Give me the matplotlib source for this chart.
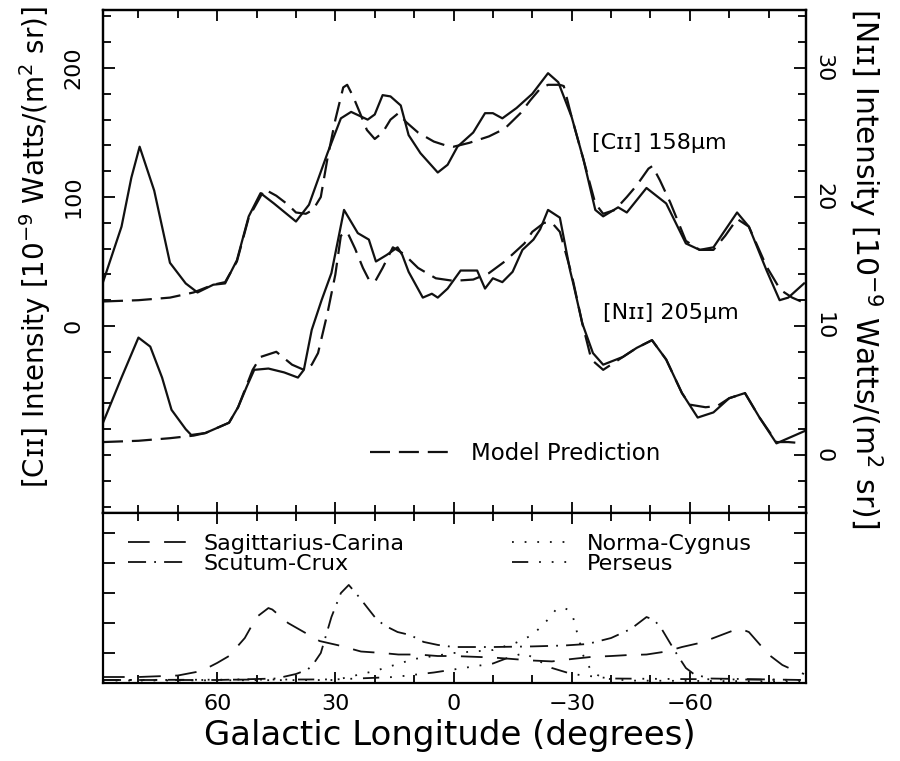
import numpy as np
import matplotlib.pyplot as plt
from matplotlib.ticker import MultipleLocator, NullFormatter

plt.rcParams['font.family'] = ['DejaVu Sans']
plt.rcParams['mathtext.fontset'] = 'dejavusans'

# [CII] 158um observed (left axis units)
cii_lon = [89, 84.3, 81.8, 79.7, 76, 72, 68, 65, 61, 58, 55, 52, 49, 45.6, 40, 36.7, 32,
           28.6, 26, 21.8, 20, 18, 16, 13.4, 11.4, 8.4, 4, 1.5, -1, -5, -8, -10, -12.4, -16,
           -20, -24, -26.6, -30, -33, -36, -38, -41.8, -44, -49, -54, -59, -62.5, -66, -72,
           -75, -79.5, -82.8, -85, -89]
cii_obs = [34, 77, 115, 139, 105, 49, 33, 26, 32, 33, 51, 85, 103, 95, 81, 94, 134,
           161, 166, 160, 164, 179, 178, 171, 148, 134, 119, 125, 139, 150, 165, 165, 161, 169,
           180, 196, 189, 162, 129, 90, 85, 92, 88, 107, 95, 64, 59, 61, 88,
           77, 43, 20, 22, 33]

# [CII] model prediction
cii_mod_lon = [89, 80, 72, 66, 61, 58, 55, 52, 48, 45, 42, 40, 37.5, 35.7, 33.7, 32, 30, 28,
               27, 25.5, 24, 22, 20, 18, 16, 14, 12, 9, 5, 2, 0, -4, -9, -13, -17, -19.5,
               -22, -24, -27, -28, -30, -33, -36, -38, -41, -44, -46.5, -49.5, -50.5, -52.4,
               -55, -59, -62.5, -66, -69, -72, -75, -79.5, -83, -86, -89]
cii_mod = [19, 20, 22, 26, 32, 34, 50, 84, 106, 101, 94, 88, 87, 90, 100, 130, 160, 185,
           187, 178, 167, 152, 145, 150, 160, 165, 158, 150, 143, 140, 139, 142, 147, 153, 165, 175,
           184, 187, 187, 186, 162, 129, 95, 87, 90, 100, 109, 122, 124, 113,
           96, 66, 59, 59, 70, 83, 77, 46, 28, 22, 18]

# [NII] 205um observed (right axis units)
nii_lon = [89, 84.3, 80, 77, 74, 71.6, 68, 66.6, 63, 60, 57, 54.7, 52.5, 50.6, 47, 43, 39.5,
           38, 36, 33.5, 31, 27.8, 24.3, 21.5, 19.7, 17, 14.2, 13, 11.4, 7.8, 5.5, 4, 1.5,
           -1.8, -6, -8, -10, -12.4, -15, -17.5, -20.3, -22, -24, -27, -29.6, -30.4, -32.7,
           -35.4, -38, -43, -46.5, -50.4, -54, -58, -62, -66, -70, -74, -77.7, -82, -85, -89.5]
nii_obs = [2.5, 6.0, 9.1, 8.4, 6.0, 3.5, 2.0, 1.55, 1.7, 2.1, 2.5, 3.7, 5.3, 6.6, 6.7, 6.4, 6.0,
           6.6, 9.7, 12.0, 14.1, 19.0, 17.2, 16.7, 15.0, 15.5, 16.1, 15.5, 14.2, 12.2, 12.5, 12.2, 12.9,
           14.3, 14.3, 12.9, 13.7, 13.4, 14.2, 15.9, 16.7, 17.5, 19.0, 18.4, 14.3, 13.3, 10.2,
           7.9, 7.0, 7.6, 8.3, 8.9, 7.4, 4.8, 2.9, 3.3, 4.4, 4.8, 2.9, 0.9, 1.3, 1.9]

# [NII] model prediction
nii_mod_lon = [89, 80, 72, 66, 63, 57, 54.7, 51, 49, 45, 43, 41, 38, 36, 34.4, 32, 30, 28.6,
               27, 25, 23, 21.5, 20, 18, 15.4, 12.7, 9, 4.5, 0, -5, -9, -13, -18, -20, -23,
               -25, -27, -30, -32.7, -35, -38, -43, -46.5, -50.4, -54, -58, -60, -64, -67,
               -70, -74, -77.7, -82, -85, -89]
nii_mod = [1.0, 1.1, 1.3, 1.5, 1.7, 2.5, 3.7, 6.6, 7.6, 8.0, 7.5, 7.0, 6.6, 7.0, 7.9, 11.0, 14.0, 17.0,
           17.3, 16.0, 14.5, 13.6, 13.4, 14.5, 16.1, 15.6, 14.5, 13.7, 13.5, 13.6, 14.1, 15.0, 16.4, 17.3, 18.0,
           18.0, 17.3, 14.0, 10.2, 7.4, 6.6, 7.6, 8.3, 8.9, 7.4, 4.8, 3.9, 3.7, 3.8,
           4.4, 4.8, 2.9, 1.0, 1.0, 0.9]

# spiral arm contributions (lower panel)
sag_lon = [89, 80, 70, 64, 60, 57, 53, 50, 47, 46, 42, 38, 34, 29, 23.5, 18, 14, 9, 4, 0,
           -10, -15, -20, -25, -30, -35, -40, -44, -49, -54, -58, -63, -68, -71, -73, -75,
           -77, -80, -83.5, -86, -89]
sag = [0.2, 0.2, 0.25, 0.4, 0.67, 0.9, 1.5, 2.2, 2.5, 2.45, 2.0, 1.7, 1.4, 1.25, 1.05, 1.0, 0.95, 0.95, 0.9, 0.9,
       0.85, 0.8, 0.75, 0.72, 0.8, 0.87, 0.9, 0.93, 0.95, 1.05, 1.2, 1.35, 1.6, 1.75, 1.8, 1.7,
       1.4, 0.95, 0.6, 0.45, 0.3]

scu_lon = [89, 60, 45, 40, 37, 35.4, 33.7, 31, 28.6, 26.6, 24, 21.8, 20, 17.7, 14.2, 11, 7.6, 4,
           0, -10, -20, -28, -34, -40, -45, -49, -51, -53, -55, -57, -59, -61, -65, -89]
scu = [0.1, 0.1, 0.15, 0.3, 0.45, 0.67, 1.0, 2.2, 3.0, 3.27, 2.87, 2.5, 2.2, 1.93, 1.7, 1.6, 1.37, 1.27,
       1.2, 1.2, 1.22, 1.25, 1.3, 1.5, 1.8, 2.2, 2.1, 1.77, 1.33, 0.9, 0.5, 0.3, 0.15, 0.1]

nor_lon = [89, 30, 20, 10, 0, -10, -16, -20, -22, -24.6, -26, -28, -29, -30.4, -31.4, -33, -35,
           -38, -45, -89]
nor = [0.08, 0.1, 0.4, 0.8, 1.0, 1.1, 1.35, 1.6, 1.85, 2.2, 2.45, 2.5, 2.45, 2.17, 1.67, 0.9, 0.4,
       0.15, 0.08, 0.05]

per_lon = [89, 30, 15, 5, 0, -5, -10, -14, -18, -25, -30, -40, -89]
per = [0.1, 0.12, 0.2, 0.35, 0.45, 0.55, 0.65, 0.85, 1.0, 0.5, 0.3, 0.15, 0.1]

fig = plt.figure(figsize=(9, 7.61), dpi=100)
ax = fig.add_axes([103/900, 1-513/761, 703/900, 503/761])
axr = ax.twinx()
axb = fig.add_axes([103/900, 1-683/761, 703/900, 170/761])

lw = 1.6
model_ls = (0, (9, 4))
ax.plot(cii_lon, cii_obs, color='#111111', lw=lw)
model_line, = ax.plot(cii_mod_lon, cii_mod, color='#111111', lw=lw, ls=model_ls,
                      label='Model Prediction')
axr.plot(nii_lon, nii_obs, color='#111111', lw=lw)
axr.plot(nii_mod_lon, nii_mod, color='#111111', lw=lw, ls=model_ls)

ax.set_xlim(89, -89.5)
ax.set_ylim(-145, 245)
axr.set_ylim(-4.5, 34.5)

ax.text(-35.2, 142, '[Cɪɪ] 158μm', fontsize=16, ha='left', va='center')
axr.text(-38, 11.0, '[Nɪɪ] 205μm', fontsize=16, ha='left', va='center')

ax.legend(handles=[model_line], loc='upper left', bbox_to_anchor=(0.38, 0.142),
          frameon=False, fontsize=16.5, handlelength=3.45, handletextpad=0.95,
          borderpad=0, borderaxespad=0)

lw2 = 1.3
axb.plot(sag_lon, sag, color='#111111', lw=lw2, ls=(0, (12, 8)), label='Sagittarius-Carina')
axb.plot(nor_lon, nor, color='#111111', lw=lw2, ls=(0, (1, 6)), label='Norma-Cygnus')
axb.plot(scu_lon, scu, color='#111111', lw=lw2, ls=(0, (10, 4.5, 1, 4.5)), label='Scutum-Crux')
axb.plot(per_lon, per, color='#111111', lw=lw2, ls=(0, (9, 6, 1, 6, 1, 6, 1, 6)), label='Perseus')
axb.set_xlim(89, -89.5)
axb.set_ylim(0, 5.67)
h, l = axb.get_legend_handles_labels()
order = [0, 2, 1, 3]
axb.legend([h[i] for i in order], [l[i] for i in order], ncol=2, loc='upper left',
           bbox_to_anchor=(0.0356, 0.875), frameon=False, fontsize=16,
           handlelength=2.8, handletextpad=0.58, columnspacing=4.85, labelspacing=0.0,
           borderpad=0, borderaxespad=0)

for a in (ax, axr, axb):
    for s in a.spines.values():
        s.set_linewidth(1.6)

for a in (ax, axb):
    a.xaxis.set_major_locator(MultipleLocator(30))
    a.xaxis.set_minor_locator(MultipleLocator(10))
    a.tick_params(axis='x', which='both', direction='in', top=True, bottom=True, width=1.3)
    a.tick_params(axis='x', which='major', length=8)
    a.tick_params(axis='x', which='minor', length=5.5)

ax.tick_params(axis='x', labelbottom=False)
axb.tick_params(axis='x', labelsize=16, pad=8)

ax.yaxis.set_major_locator(MultipleLocator(100))
ax.yaxis.set_minor_locator(MultipleLocator(20))
ax.tick_params(axis='y', which='both', direction='in', left=True, right=False, width=1.3)
ax.tick_params(axis='y', which='major', length=8.6, labelsize=16, pad=14, labelrotation=90)
ax.tick_params(axis='y', which='minor', length=5.8)
ax.set_yticks([0, 100, 200])

axr.yaxis.set_major_locator(MultipleLocator(10))
axr.yaxis.set_minor_locator(MultipleLocator(2))
axr.tick_params(axis='y', which='both', direction='in', right=True, width=1.3)
axr.tick_params(axis='y', which='major', length=8.6, labelsize=16, pad=5.5, labelrotation=-90)
axr.tick_params(axis='y', which='minor', length=5.8)
axr.set_yticks([0, 10, 20, 30])

axb.yaxis.set_major_locator(MultipleLocator(1))
axb.yaxis.set_major_formatter(NullFormatter())
axb.tick_params(axis='y', which='both', direction='in', left=True, right=True, width=1.3,
                length=8.6)

for t in ax.get_yticklabels() + axr.get_yticklabels():
    t.set_va('center')

fig.text(35/900, 1-247/761, '[Cɪɪ] Intensity [10$^{-9}$ Watts/(m$^{2}$ sr)]',
         rotation=90, ha='center', va='center', fontsize=20)
fig.text(865/900, 1-268/761, '[Nɪɪ] Intensity [10$^{-9}$ Watts/(m$^{2}$ sr)]',
         rotation=-90, ha='center', va='center', fontsize=21.5)
fig.text(450/900, 1-735/761, 'Galactic Longitude (degrees)', ha='center', va='center',
         fontsize=24.5)

fig.savefig('out.png', dpi=100)
